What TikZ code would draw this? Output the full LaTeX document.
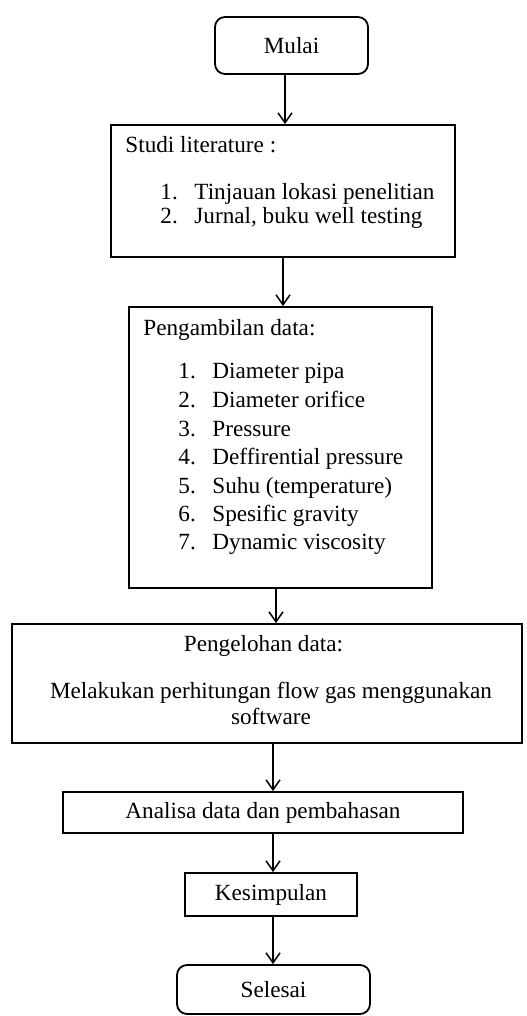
\documentclass[tikz,border=0pt]{standalone}
\usepackage{fontspec}
\setmainfont{Liberation Serif}
\usetikzlibrary{arrows.meta}

\begin{document}
\begin{tikzpicture}[
    x=0.5pt, y=-0.5pt,
    font=\fontsize{11.6}{13}\selectfont,
    box/.style={rectangle, draw, line width=0.9pt, inner sep=0pt, align=center},
    terminal/.style={box, rounded corners=5pt},
    txt/.style={inner sep=0pt, anchor=base west},
    arrow/.style={-{Straight Barb[length=5pt, width=7pt]}, line width=0.75pt},
]
    \useasboundingbox (0,0) rectangle (526,1016);

    \node[terminal, minimum width=76.5pt, minimum height=28.5pt] (mulai) at (291.5,45.5) {Mulai};

    \node[box, minimum width=172pt, minimum height=66pt] (studi) at (283,191) {};
    \node[txt] (studi-t) at (125,153) {Studi literature :};
    \node[txt] (studi-n1) at (160,199) {1.};
    \node[txt] (studi-1) at (194,199) {Tinjauan lokasi penelitian};
    \node[txt] (studi-n2) at (160,223) {2.};
    \node[txt] (studi-2) at (194,223) {Jurnal, buku well testing};

    \node[box, minimum width=151.5pt, minimum height=140.5pt] (ambil) at (280.5,447.5) {};
    \node[txt] (ambil-t) at (143,335) {Pengambilan data:};
    \node[txt] (ambil-n1) at (178,378) {1.};
    \node[txt] (ambil-1) at (212,378) {Diameter pipa};
    \node[txt] (ambil-n2) at (178,407) {2.};
    \node[txt] (ambil-2) at (212,407) {Diameter orifice};
    \node[txt] (ambil-n3) at (178,436) {3.};
    \node[txt] (ambil-3) at (212,436) {Pressure};
    \node[txt] (ambil-n4) at (178,464) {4.};
    \node[txt] (ambil-4) at (212,464) {Deffirential pressure};
    \node[txt] (ambil-n5) at (178,493) {5.};
    \node[txt] (ambil-5) at (212,493) {Suhu (temperature)};
    \node[txt] (ambil-n6) at (178,521) {6.};
    \node[txt] (ambil-6) at (212,521) {Spesific gravity};
    \node[txt] (ambil-n7) at (178,549) {7.};
    \node[txt] (ambil-7) at (212,549) {Dynamic viscosity};

    \node[box, minimum width=255pt, minimum height=59.5pt] (olah) at (267,683.5) {};
    \node[txt, anchor=base] (olah-t) at (263.5,651) {Pengelohan data:};
    \node[inner sep=0pt, align=center] (olah-1) at (271,703.5) {Melakukan perhitungan flow gas menggunakan\\software};

    \node[box, minimum width=200pt, minimum height=20.5pt] (analisa) at (263,812.5) {Analisa data dan pembahasan};
    \node[box, minimum width=86pt, minimum height=21.5pt] (simpul) at (271,894.5) {Kesimpulan};
    \node[terminal, minimum width=96.5pt, minimum height=24.5pt] (selesai) at (273.5,989.5) {Selesai};

    \draw[arrow] ([xshift=-3.25pt]mulai.south) -- ([xshift=1pt]studi.north);
    \draw[arrow] (studi.south) -- ([xshift=1.25pt]ambil.north);
    \draw[arrow] ([xshift=-2.25pt]ambil.south) -- ([xshift=4.5pt]olah.north);
    \draw[arrow] ([xshift=3pt]olah.south) -- ([xshift=5pt]analisa.north);
    \draw[arrow] ([xshift=5pt]analisa.south) -- ([xshift=1pt]simpul.north);
    \draw[arrow] ([xshift=1pt]simpul.south) -- ([xshift=-0.25pt]selesai.north);
\end{tikzpicture}
\end{document}
